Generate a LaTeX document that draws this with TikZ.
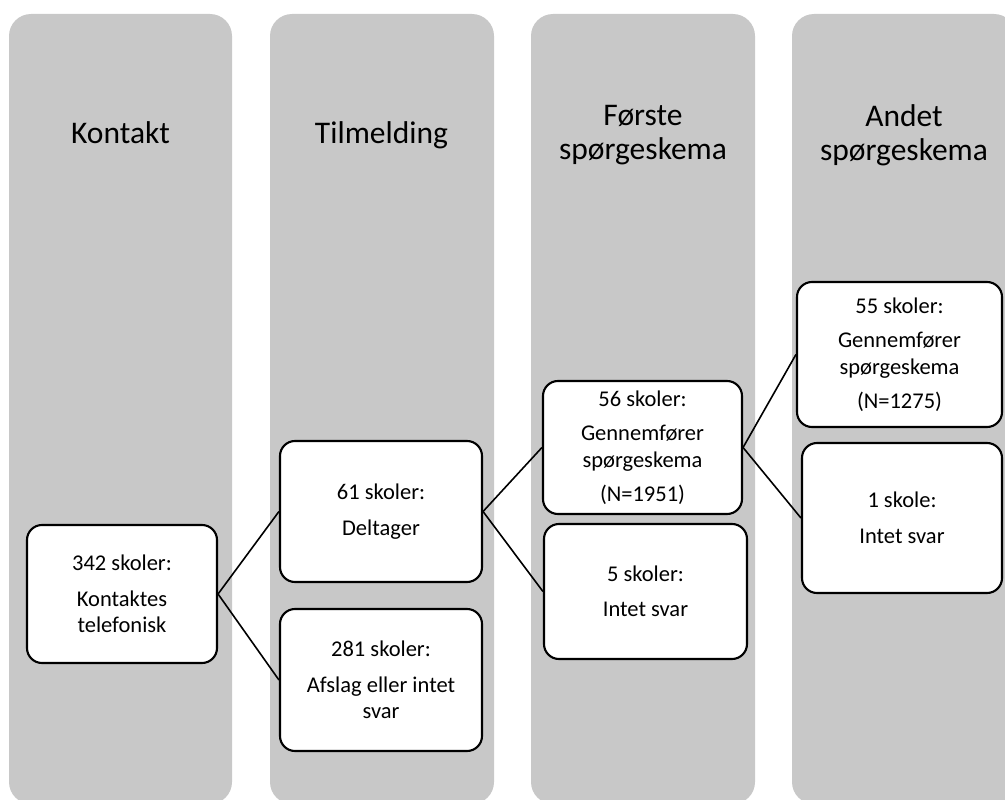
\documentclass[tikz,border=0pt]{standalone}
\usepackage{fontspec}
\setmainfont{Carlito}
\definecolor{colgray}{HTML}{C8C8C8}
\begin{document}
\begin{tikzpicture}[x=1pt,y=-1pt,
  column/.style={fill=colgray,draw=none,rounded corners=22pt},
  header/.style={align=center,font=\fontsize{31.5}{34}\selectfont,inner sep=0pt},
  stepbox/.style={draw=black,fill=white,line width=2.1pt,rounded corners=15pt,align=center,inner sep=0pt,font=\fontsize{22.5}{26.5}\selectfont},
  link/.style={draw=black,line width=1.6pt}
]
\useasboundingbox (0,0) rectangle (1005,800);
\clip (0,0) rectangle (1005,800);
% columns
\fill[column] (9,14) rectangle (232,804);
\fill[column] (270,14) rectangle (494,804);
\fill[column] (531,14) rectangle (755,804);
\fill[column] (792,14) rectangle (1016,804);
% headers
\node[header,anchor=base] (h1) at (120.5,143) {Kontakt};
\node[header,anchor=base] (h2) at (381.5,143) {Tilmelding};
\node[header] (h3) at (643,135) {Første\\spørgeskema};
\node[header] (h4) at (904,135) {Andet\\spørgeskema};
% boxes
\node[stepbox,minimum width=190pt,minimum height=138pt] (A) at (122,594) {342 skoler:\\[9pt]Kontaktes\\telefonisk};
\node[stepbox,minimum width=202pt,minimum height=141pt] (B) at (381,511.5) {61 skoler:\\[9pt]Deltager};
\node[stepbox,minimum width=202pt,minimum height=142pt] (C) at (381,680) {281 skoler:\\[9pt]Afslag eller intet\\svar};
\node[stepbox,minimum width=199pt,minimum height=133pt] (D) at (642.5,447.5) {56 skoler:\\[8pt]Gennemfører\\spørgeskema\\[8pt](N=1951)};
\node[stepbox,minimum width=203pt,minimum height=135pt] (E) at (645.5,591.5) {5 skoler:\\[9pt]Intet svar};
\node[stepbox,minimum width=205pt,minimum height=145pt] (F) at (899.5,354.5) {55 skoler:\\[8pt]Gennemfører\\spørgeskema\\[8pt](N=1275)};
\node[stepbox,minimum width=200pt,minimum height=150pt] (G) at (902,518) {1 skole:\\[9pt]Intet svar};
% connectors
\draw[link] (A.east) -- (B.west);
\draw[link] (A.east) -- (C.west);
\draw[link] (B.east) -- (D.west);
\draw[link] (B.east) -- (E.west);
\draw[link] (D.east) -- (F.west);
\draw[link] (D.east) -- (G.west);
\end{tikzpicture}
\end{document}
